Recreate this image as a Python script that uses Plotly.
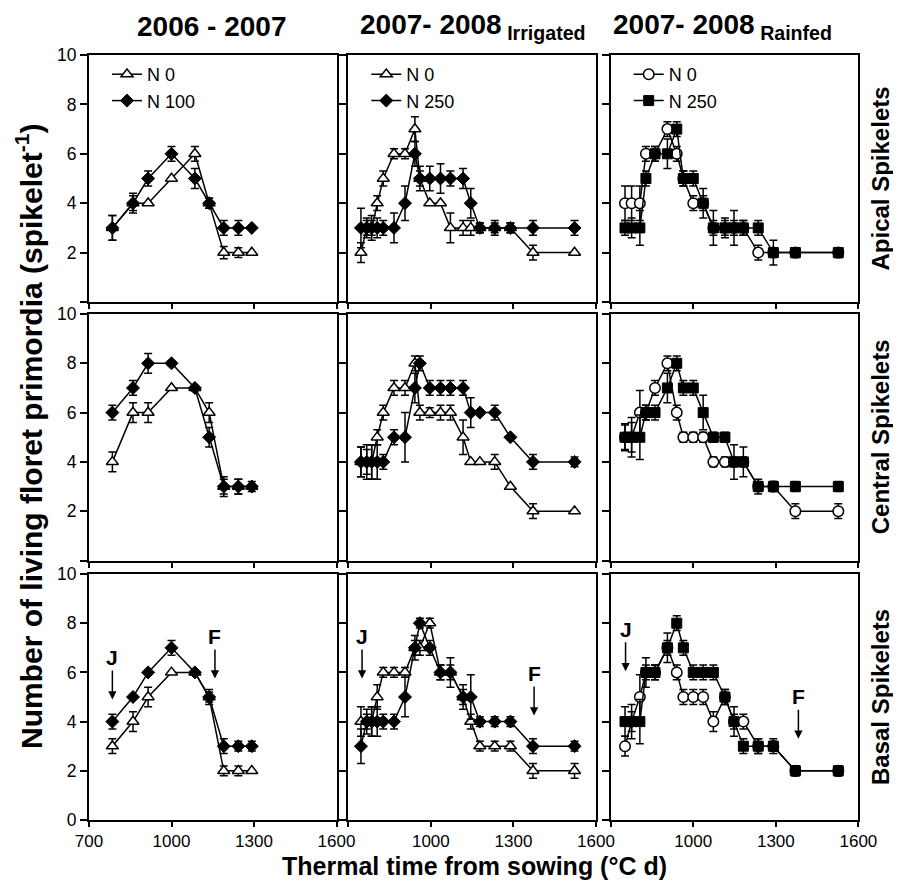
import plotly.graph_objects as go

# ---------------- data ----------------
# sampling dates (thermal time, degC d)
x_0607 = [785, 860, 915, 1000, 1085, 1137, 1190, 1243, 1292]
x_irr = [746, 767, 785, 805, 827, 866, 906, 942, 960, 996, 1035, 1071, 1117, 1145, 1178, 1232, 1289, 1371, 1522]
x_rf = [752, 776, 806, 828, 861, 906, 940, 964, 1000, 1036, 1073, 1115, 1148, 1182, 1236, 1291, 1371, 1527]

# 2006-2007 (N0 / N100)
api_0607_n0 = [3, 4, 4, 5, 6, 4, 2, 2, 2]
api_0607_n0_err = [0.5, 0.3, 0, 0, 0.3, 0.2, 0.25, 0.2, 0]
api_0607_n100 = [3, 4, 5, 6, 5, 4, 3, 3, 3]
api_0607_n100_err = [0.5, 0.4, 0.3, 0.3, 0.4, 0.2, 0.3, 0.3, 0]
cen_0607_n0 = [4, 6, 6, 7, 7, 6, 3, 3, 3]
cen_0607_n0_err = [0.4, 0.4, 0.4, 0, 0, 0.4, 0.3, 0.3, 0]
cen_0607_n100 = [6, 7, 8, 8, 7, 5, 3, 3, 3]
cen_0607_n100_err = [0.3, 0.3, 0.4, 0.1, 0.1, 0.4, 0.4, 0.3, 0.2]
bas_0607_n0 = [3, 4, 5, 6, 6, 5, 2, 2, 2]
bas_0607_n0_err = [0.3, 0.4, 0.4, 0, 0, 0.2, 0.2, 0.2, 0]
bas_0607_n100 = [4, 5, 6, 7, 6, 5, 3, 3, 3]
bas_0607_n100_err = [0.3, 0, 0, 0.3, 0.1, 0.3, 0.3, 0.2, 0.2]

# 2007-2008 irrigated (N0 / N250)
api_irr_n0 = [2, 3, 3, 4, 5, 6, 6, 7, 5, 4, 4, 3, 3, 3, 3, 3, 3, 2, 2]
api_irr_n0_err = [0.4, 0.3, 0.3, 0.3, 0.3, 0.2, 0.2, 0.5, 0.3, 0, 0, 0.6, 0.3, 0.3, 0.2, 0.2, 0.2, 0.3, 0]
api_irr_n250 = [3, 3, 3, 3, 3, 3, 4, 6, 5, 5, 5, 5, 5, 4, 3, 3, 3, 3, 3]
api_irr_n250_err = [0.8, 0.4, 0.5, 0.4, 0.3, 0.6, 0.7, 0.5, 0.5, 0.5, 0.6, 0.3, 0.4, 0.6, 0.2, 0.3, 0.2, 0.3, 0.3]
cen_irr_n0 = [4, 4, 4, 5, 6, 7, 7, 8, 6, 6, 6, 6, 5, 4, 4, 4, 3, 2, 2]
cen_irr_n0_err = [0.6, 0.5, 0.7, 0.3, 0.3, 0.3, 0.3, 0.3, 0.3, 0.2, 0.3, 0.3, 0.7, 0, 0, 0.3, 0, 0.3, 0]
cen_irr_n250 = [4, 4, 4, 4, 4, 5, 5, 7, 8, 7, 7, 7, 7, 6, 6, 6, 5, 4, 4]
cen_irr_n250_err = [0.6, 0.7, 0.7, 0.7, 0.3, 0.3, 1.0, 0.6, 0.3, 0.3, 0.3, 0.3, 0.3, 0.6, 0, 0.3, 0, 0.3, 0.2]
bas_irr_n0 = [4, 4, 4, 5, 6, 6, 6, 7, 7, 8, 6, 6, 5, 4, 3, 3, 3, 2, 2]
bas_irr_n0_err = [0.6, 0.5, 0.6, 0.5, 0.2, 0.2, 0.2, 0.3, 0.3, 0.2, 0.3, 0.3, 0.5, 0.3, 0.2, 0.2, 0.2, 0.3, 0.3]
bas_irr_n250 = [3, 4, 4, 4, 4, 4, 5, 7, 8, 7, 6, 6, 5, 5, 4, 4, 4, 3, 3]
bas_irr_n250_err = [0.7, 0.3, 0.6, 0.6, 0.3, 0.3, 0.8, 0.5, 0.2, 0.3, 0.3, 0.6, 0.3, 0.9, 0.2, 0.2, 0.2, 0.3, 0.2]

# 2007-2008 rainfed (N0 / N250)
api_rf_n0 = [4, 4, 4, 6, 6, 7, 6, 5, 4, 4, 3, 3, 3, 3, 2, 2, 2, 2]
api_rf_n0_err = [0.7, 0.7, 0.7, 0.3, 0.3, 0.3, 0.3, 0.3, 0.3, 0.3, 0.3, 0.3, 0.3, 0.3, 0.3, 0.2, 0.2, 0.2]
api_rf_n250 = [3, 3, 3, 5, 6, 6, 7, 5, 5, 4, 3, 3, 3, 3, 3, 2, 2, 2]
api_rf_n250_err = [0.3, 0.4, 0.7, 0.3, 0.3, 0.6, 0.3, 0.3, 0.3, 0.6, 0.7, 0.4, 0.7, 0.3, 0.3, 0.5, 0.2, 0.2]
cen_rf_n0 = [5, 5, 6, 6, 7, 8, 6, 5, 5, 5, 4, 4, 4, 4, 3, 3, 2, 2]
cen_rf_n0_err = [0.5, 0.6, 0.9, 0.3, 0.3, 0.3, 0.3, 0.2, 0.2, 0.2, 0.2, 0.2, 0.2, 0.2, 0.2, 0.2, 0.3, 0.3]
cen_rf_n250 = [5, 5, 5, 6, 6, 7, 8, 7, 7, 6, 5, 5, 4, 4, 3, 3, 3, 3]
cen_rf_n250_err = [0.55, 0.8, 0.9, 0.3, 0.3, 0.6, 0.3, 0.3, 0.3, 0.7, 0.2, 0.2, 0.7, 0.6, 0.3, 0.2, 0.2, 0.2]
bas_rf_n0 = [3, 4, 5, 6, 6, 7, 6, 5, 5, 5, 4, 5, 4, 4, 3, 3, 2, 2]
bas_rf_n0_err = [0.4, 0.4, 0.9, 0.3, 0.3, 0.3, 0.3, 0.3, 0.3, 0.3, 0.4, 0.3, 0.3, 0.3, 0.3, 0.2, 0.2, 0.2]
bas_rf_n250 = [4, 4, 4, 6, 6, 7, 8, 7, 6, 6, 6, 5, 4, 3, 3, 3, 2, 2]
bas_rf_n250_err = [0.6, 0.7, 0.9, 0.6, 0.3, 0.6, 0.3, 0.3, 0.3, 0.3, 0.3, 0.3, 0.6, 0.3, 0.3, 0.3, 0.2, 0.2]

# tick labels / text
col_titles = ["2006 - 2007", "2007- 2008<sub> Irrigated</sub>", "2007- 2008<sub> Rainfed</sub>"]
row_titles = ["Apical Spikelets", "Central Spikelets", "Basal Spikelets"]
legend_n0 = ["N 0", "N 0", "N 0"]
legend_nhi = ["N 100", "N 250", "N 250"]
x_tickvals = [700, 1000, 1300, 1600]
y_tickvals = [0, 2, 4, 6, 8, 10]

# phenological stages (J = terminal spikelet, F = flowering) in basal panels
stage_label = ["J", "F", "J", "F", "J", "F"]
stage_col = [0, 0, 1, 1, 2, 2]
stage_x = [785, 1158, 750, 1375, 754, 1382]
stage_y = [4.9, 5.75, 5.75, 4.25, 6.05, 3.3]

# ---------------- layout geometry (page px; page body has an 8 px margin) ----------------
OFF = 8
W, H = 901 - OFF, 891 - OFF
col_px = [(89, 336.5), (348.3, 596), (610.7, 858.4)]
row_px = [(55, 302), (314, 560.5), (574, 820)]
title_cx = [211, 473, 722]


def px(p):
    return (p - OFF) / W


def py(p):
    return 1 - (p - OFF) / H


data = {
    0: [(x_0607, api_0607_n0, api_0607_n0_err, api_0607_n100, api_0607_n100_err),
        (x_0607, cen_0607_n0, cen_0607_n0_err, cen_0607_n100, cen_0607_n100_err),
        (x_0607, bas_0607_n0, bas_0607_n0_err, bas_0607_n100, bas_0607_n100_err)],
    1: [(x_irr, api_irr_n0, api_irr_n0_err, api_irr_n250, api_irr_n250_err),
        (x_irr, cen_irr_n0, cen_irr_n0_err, cen_irr_n250, cen_irr_n250_err),
        (x_irr, bas_irr_n0, bas_irr_n0_err, bas_irr_n250, bas_irr_n250_err)],
    2: [(x_rf, api_rf_n0, api_rf_n0_err, api_rf_n250, api_rf_n250_err),
        (x_rf, cen_rf_n0, cen_rf_n0_err, cen_rf_n250, cen_rf_n250_err),
        (x_rf, bas_rf_n0, bas_rf_n0_err, bas_rf_n250, bas_rf_n250_err)],
}
sym_open = ["triangle-up", "triangle-up", "circle"]
sym_fill = ["diamond", "diamond", "square"]
size_open = [10.5, 10.5, 10.5]
size_fill = [10, 10, 10]

FONT = "Liberation Sans, Arial, Helvetica, sans-serif"
fig = go.Figure()
layout = dict(width=W, height=H, margin=dict(l=0, r=0, t=0, b=0, autoexpand=False),
              template="none",
              paper_bgcolor="white", plot_bgcolor="white", font=dict(family=FONT, color="black"),
              annotations=[])

legend_names = ["legend", "legend2", "legend3"]
for c in range(3):
    for r in range(3):
        k = r * 3 + c + 1
        xs = "" if k == 1 else str(k)
        xv, n0, n0e, nh, nhe = data[c][r]
        common = dict(mode="lines+markers", line=dict(color="black", width=1.5),
                      xaxis="x" + xs, yaxis="y" + xs, showlegend=(r == 0), legend=legend_names[c])
        fig.add_trace(go.Scatter(x=xv, y=n0, name=legend_n0[c],
                                 error_y=dict(type="data", array=n0e, color="black", thickness=1.5, width=4),
                                 marker=dict(symbol=sym_open[c], size=size_open[c], color="white",
                                             line=dict(color="black", width=1.5)), **common))
        fig.add_trace(go.Scatter(x=xv, y=nh, name=legend_nhi[c],
                                 error_y=dict(type="data", array=nhe, color="black", thickness=1.5, width=4),
                                 marker=dict(symbol=sym_fill[c], size=size_fill[c], color="black",
                                             line=dict(color="black", width=1)), **common))
        xd = [px(col_px[c][0]), px(col_px[c][1])]
        yd = [py(row_px[r][1]), py(row_px[r][0])]
        xt = [("" if (c > 0 and v == 700) else str(v)) if r == 2 else "" for v in x_tickvals]
        if c == 0:
            yt = [("" if (v == 0 and r < 2) else str(v)) for v in y_tickvals]
        else:
            yt = ["" for v in y_tickvals]
        layout["xaxis" + xs] = dict(domain=xd, anchor="y" + xs, range=[700, 1600], tickmode="array",
                                    tickvals=x_tickvals, ticktext=xt, ticks="outside", ticklen=5,
                                    tickwidth=1.5, tickcolor="black", showline=True, linecolor="black",
                                    linewidth=2, mirror=True, showgrid=False, zeroline=False,
                                    automargin=False, tickfont=dict(size=17, family=FONT))
        layout["yaxis" + xs] = dict(domain=yd, anchor="x" + xs, range=[0, 10], tickmode="array",
                                    tickvals=y_tickvals, ticktext=yt, ticks="outside", ticklen=7,
                                    tickwidth=1.5, tickcolor="black", showline=True, linecolor="black",
                                    linewidth=2, mirror=True, showgrid=False, zeroline=False,
                                    automargin=False, tickfont=dict(size=17.5, family=FONT))
    # legend per column
    layout[legend_names[c]] = dict(x=px(col_px[c][0] + 18), y=py(56), xanchor="left", yanchor="top",
                                   bgcolor="rgba(0,0,0,0)", font=dict(size=18, family=FONT),
                                   itemwidth=30, tracegroupgap=0)
    # column titles
    layout["annotations"].append(dict(text="<b>" + col_titles[c] + "</b>", xref="paper", yref="paper",
                                      x=px(title_cx[c]), xanchor="center", y=py(26), yanchor="middle",
                                      showarrow=False, font=dict(size=28, family=FONT)))

for r in range(3):
    layout["annotations"].append(dict(text="<b>" + row_titles[r] + "</b>", xref="paper", yref="paper",
                                      x=px(880), y=py((row_px[r][0] + row_px[r][1]) / 2),
                                      xanchor="center", yanchor="middle",
                                      textangle=-90, showarrow=False, font=dict(size=24, family=FONT)))

layout["annotations"].append(dict(text="<b>Number of living floret primordia (spikelet<sup>-1</sup>)</b>",
                                  xref="paper", yref="paper", x=px(29), y=py(437), textangle=-90,
                                  xanchor="center", yanchor="middle",
                                  showarrow=False, font=dict(size=30, family=FONT)))
layout["annotations"].append(dict(text="<b>Thermal time from sowing (°C d)</b>", xref="paper", yref="paper",
                                  x=px(474), y=py(866), xanchor="center", yanchor="middle",
                                  showarrow=False, font=dict(size=25, family=FONT)))

for lab, c, sx, sy in zip(stage_label, stage_col, stage_x, stage_y):
    k = 6 + c + 1
    layout["annotations"].append(dict(text="<b>" + lab + "</b>", x=sx, y=sy, xref="x" + str(k), yref="y" + str(k),
                                      showarrow=True, arrowhead=2, arrowsize=1.1, arrowwidth=1.5,
                                      arrowcolor="black", ax=0, ay=-42, font=dict(size=21, family=FONT)))

fig.update_layout(**layout)
fig.write_html("out.html")
